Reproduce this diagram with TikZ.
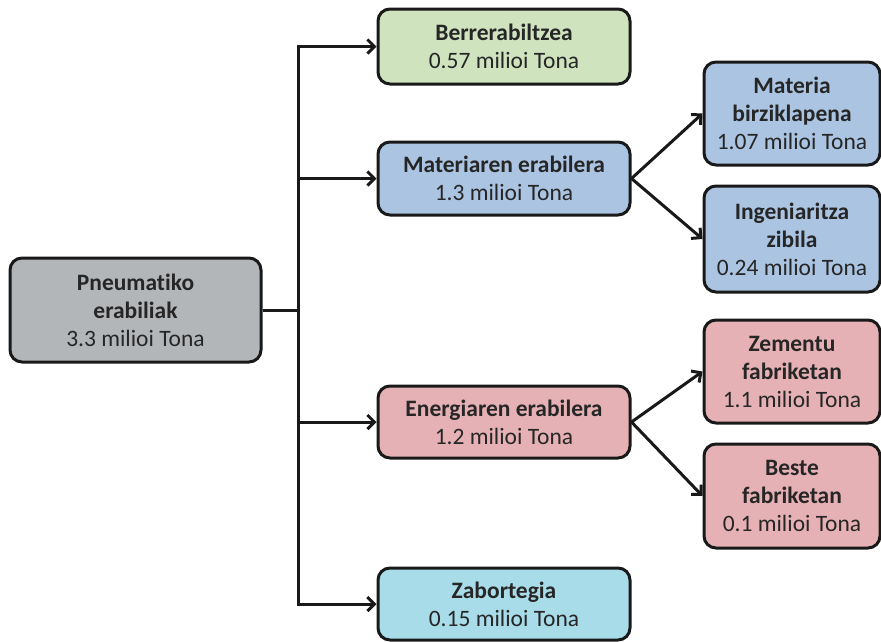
\documentclass[tikz,border=0pt]{standalone}
\usepackage{fontspec}
\setmainfont[Ligatures=NoCommon]{Carlito}
\usetikzlibrary{arrows.meta}
\definecolor{txt}{HTML}{262626}
\definecolor{cgray}{HTML}{B3B6B9}
\definecolor{cgreen}{HTML}{CEE3BE}
\definecolor{cblue}{HTML}{AAC4E2}
\definecolor{cpink}{HTML}{E5B1B4}
\definecolor{ccyan}{HTML}{A7DCE8}
\tikzset{
  box/.style={draw=black!90, line width=3pt, rounded corners=12pt, align=center,
    text=txt, font=\fontsize{23.5}{28}\selectfont, inner sep=0pt},
  arr/.style={draw=black!90, line width=3pt, -{Straight Barb[length=7pt,width=14pt,line width=3pt]}},
  ln/.style={draw=black!90, line width=3pt}
}
\begin{document}
\begin{tikzpicture}[x=1pt,y=-1pt]
\useasboundingbox (0,0) rectangle (881,641);
\node[box, fill=cgray, minimum width=251pt, minimum height=104pt] (pn) at (135.5,310) {\textbf{Pneumatiko}\\\textbf{erabiliak}\\3.3 milioi Tona};
\node[box, fill=cgreen, minimum width=252pt, minimum height=75pt] (ber) at (504,46.5) {\textbf{Berrerabiltzea}\\0.57 milioi Tona};
\node[box, fill=cblue, minimum width=252pt, minimum height=73pt] (mat) at (504,178.5) {\textbf{Materiaren erabilera}\\1.3 milioi Tona};
\node[box, fill=cpink, minimum width=252pt, minimum height=72pt] (ene) at (504,422) {\textbf{Energiaren erabilera}\\1.2 milioi Tona};
\node[box, fill=ccyan, minimum width=252pt, minimum height=72pt] (zab) at (504,604) {\textbf{Zabortegia}\\0.15 milioi Tona};
\node[box, fill=cblue, minimum width=176pt, minimum height=103pt] (mb) at (792,113.5) {\textbf{Materia}\\\textbf{birziklapena}\\1.07 milioi Tona};
\node[box, fill=cblue, minimum width=176pt, minimum height=106pt] (iz) at (792,239) {\textbf{Ingeniaritza}\\\textbf{zibila}\\0.24 milioi Tona};
\node[box, fill=cpink, minimum width=176pt, minimum height=103pt] (zf) at (792,371.5) {\textbf{Zementu}\\\textbf{fabriketan}\\1.1 milioi Tona};
\node[box, fill=cpink, minimum width=176pt, minimum height=104pt] (bf) at (792,496) {\textbf{Beste}\\\textbf{fabriketan}\\0.1 milioi Tona};
\coordinate (jn) at (298,310);
\draw[arr] (pn.east) -- (jn) |- (ber.west);
\draw[arr] (pn.east) -- (jn) |- (zab.west);
\draw[arr] (jn |- mat.west) -- (mat.west);
\draw[arr] (jn |- ene.west) -- (ene.west);
\draw[arr] (mat.east) -- (mb.west);
\draw[arr] (mat.east) -- (iz.west);
\draw[arr] (ene.east) -- (zf.west);
\draw[arr] (ene.east) -- (bf.west);
\end{tikzpicture}
\end{document}
